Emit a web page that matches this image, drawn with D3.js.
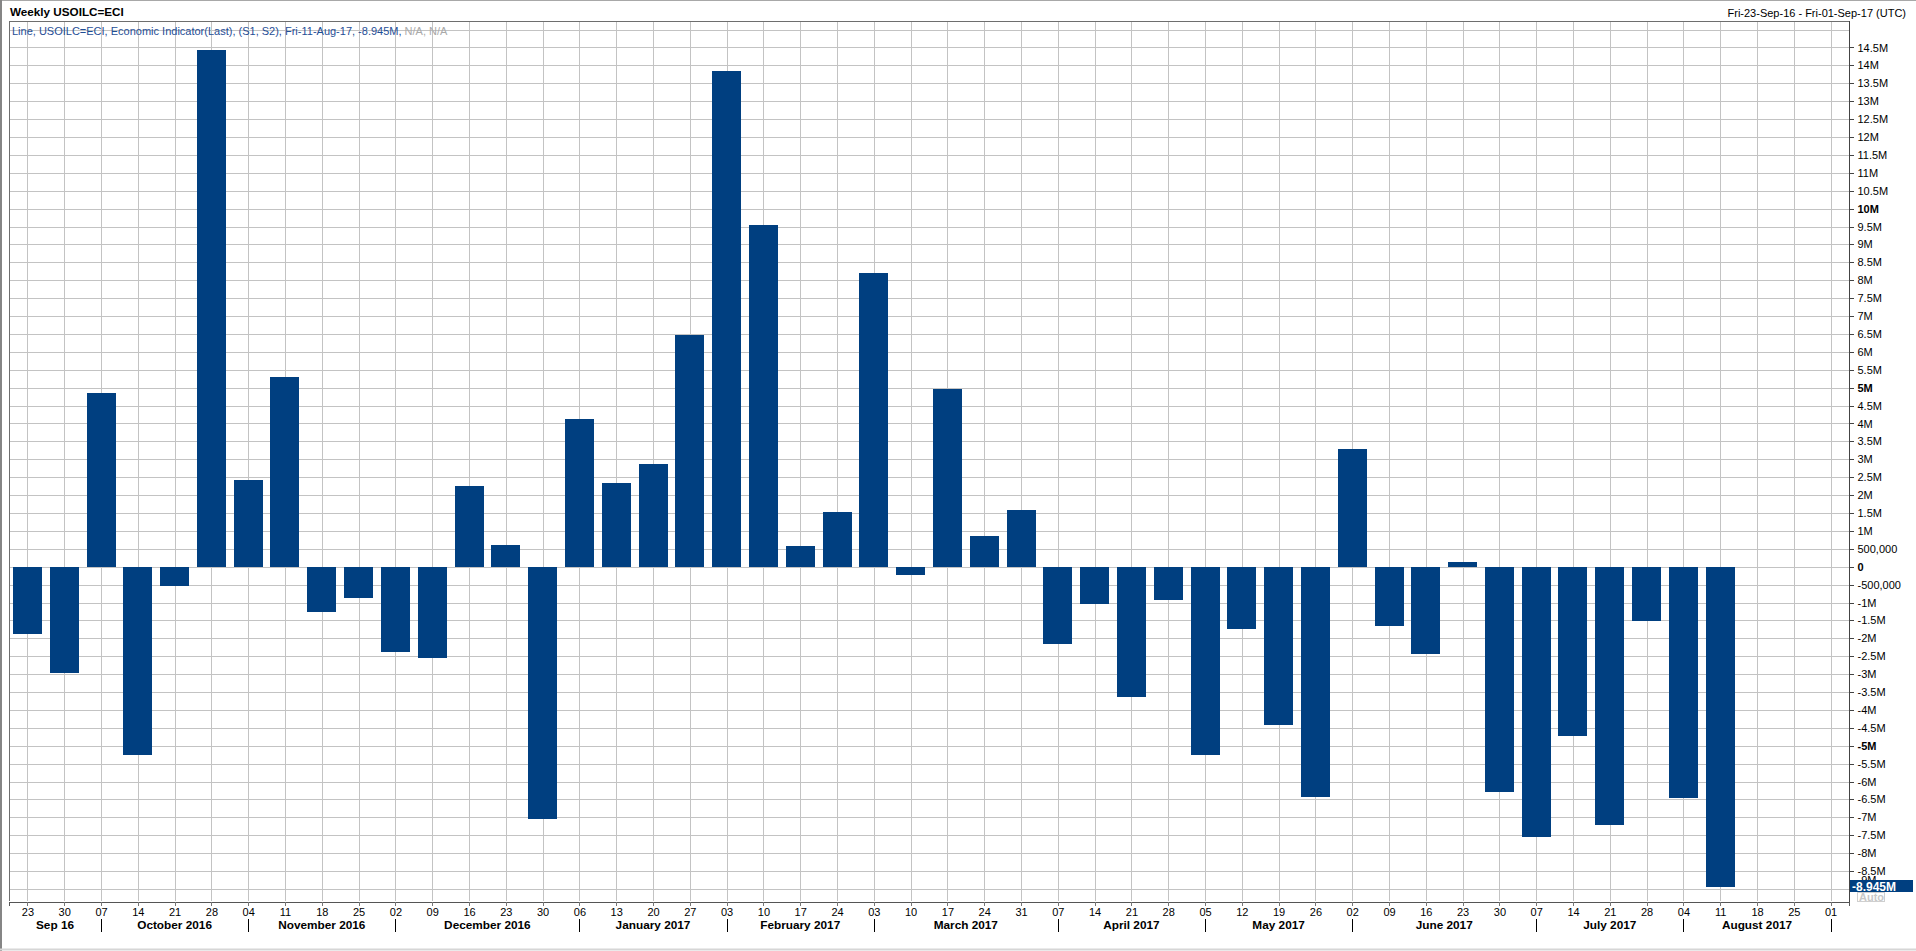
<!DOCTYPE html>
<html>
<head>
<meta charset="utf-8">
<script src="https://cdn.jsdelivr.net/npm/d3@7"></script>
<style>
  html, body { margin: 0; padding: 0; background: #fff; }
  svg { display: block; font-family: "Liberation Sans", Arial, sans-serif; }
</style>
</head>
<body>
<svg id="chart" width="1916" height="951"></svg>
<script>
// ---- DATA ----
const weeks = ["2016-09-23","2016-09-30","2016-10-07","2016-10-14","2016-10-21","2016-10-28","2016-11-04","2016-11-11","2016-11-18","2016-11-25","2016-12-02","2016-12-09","2016-12-16","2016-12-23","2016-12-30","2017-01-06","2017-01-13","2017-01-20","2017-01-27","2017-02-03","2017-02-10","2017-02-17","2017-02-24","2017-03-03","2017-03-10","2017-03-17","2017-03-24","2017-03-31","2017-04-07","2017-04-14","2017-04-21","2017-04-28","2017-05-05","2017-05-12","2017-05-19","2017-05-26","2017-06-02","2017-06-09","2017-06-16","2017-06-23","2017-06-30","2017-07-07","2017-07-14","2017-07-21","2017-07-28","2017-08-04","2017-08-11","2017-08-18","2017-08-25","2017-09-01"];
// weekly change, millions of barrels (no data for the last three weeks)
const values = [-1.88, -2.98, 4.86, -5.25, -0.55, 14.42, 2.43, 5.3, -1.26, -0.88, -2.39, -2.56, 2.26, 0.61, -7.05, 4.12, 2.35, 2.86, 6.47, 13.84, 9.53, 0.58, 1.52, 8.21, -0.24, 4.95, 0.87, 1.57, -2.17, -1.03, -3.64, -0.93, -5.25, -1.75, -4.43, -6.43, 3.3, -1.66, -2.45, 0.12, -6.3, -7.56, -4.73, -7.21, -1.53, -6.45, -8.945];
const monthLabels = ["Sep 16","October 2016","November 2016","December 2016","January 2017","February 2017","March 2017","April 2017","May 2017","June 2017","July 2017","August 2017"];
const yTicks = [15, 14.5, 14, 13.5, 13, 12.5, 12, 11.5, 11, 10.5, 10, 9.5, 9, 8.5, 8, 7.5, 7, 6.5, 6, 5.5, 5, 4.5, 4, 3.5, 3, 2.5, 2, 1.5, 1, 0.5, 0, -0.5, -1, -1.5, -2, -2.5, -3, -3.5, -4, -4.5, -5, -5.5, -6, -6.5, -7, -7.5, -8, -8.5, -9];
const yLabelTicks = yTicks.filter(v => v < 15);
const boldTicks = [10, 5, 0, -5];
const titleText = "Weekly USOILC=ECI";
const legendText = "Line, USOILC=ECI, Economic Indicator(Last), (S1, S2), Fri-11-Aug-17, -8.945M, ";
const legendNA = "N/A, N/A";
const rangeText = "Fri-23-Sep-16 - Fri-01-Sep-17 (UTC)";
const lastValueText = "-8.945M";

// ---- LAYOUT ----
const W = 1916, H = 951;
const plot = {left: 9, right: 1849, top: 21, bottom: 901};
const barColor = "#003f80";
const gridColor = "#c3c3c3";

const svg = d3.select("#chart");
const parse = d3.utcParse("%Y-%m-%d");
const dates = weeks.map(parse);
const halfWeek = 3.5 * 864e5;

const x = d3.scaleUtc()
  .domain([new Date(+dates[0] - halfWeek), new Date(+dates[dates.length - 1] + halfWeek)])
  .range([plot.left, plot.right]);
const y = d3.scaleLinear()
  .domain([-9.336, 15.24])
  .range([plot.bottom, plot.top]);

// outer frame
svg.append("rect").attr("x", 0).attr("y", 0).attr("width", W).attr("height", H).attr("fill", "#fff");
svg.append("line").attr("x1", 0).attr("x2", W).attr("y1", 0.5).attr("y2", 0.5).attr("stroke", "#a8a8a8");
svg.append("line").attr("x1", 1).attr("x2", 1).attr("y1", 0).attr("y2", H).attr("stroke", "#858585").attr("stroke-width", 2);
svg.append("line").attr("x1", 0).attr("x2", W).attr("y1", H - 1.5).attr("y2", H - 1.5).attr("stroke", "#d6d6d6").attr("stroke-width", 2);

// gridlines
const grid = svg.append("g").attr("shape-rendering", "crispEdges");
grid.selectAll("line.h").data(yTicks).join("line")
  .attr("class", "h")
  .attr("x1", plot.left).attr("x2", plot.right)
  .attr("y1", d => Math.round(y(d)) + 0.5).attr("y2", d => Math.round(y(d)) + 0.5)
  .attr("stroke", gridColor);
grid.selectAll("line.v").data(dates).join("line")
  .attr("class", "v")
  .attr("y1", plot.top).attr("y2", plot.bottom)
  .attr("x1", d => Math.round(x(d)) + 0.5).attr("x2", d => Math.round(x(d)) + 0.5)
  .attr("stroke", gridColor);

// legend line text (over grid)
const legend = svg.append("text").attr("x", 12).attr("y", 34.5)
  .attr("font-size", 11).attr("fill", "#1f4e96");
legend.append("tspan").text(legendText);
legend.append("tspan").attr("fill", "#a9a9a9").text(legendNA);

// bars
const barW = 29;
svg.append("g").attr("shape-rendering", "crispEdges")
  .selectAll("rect").data(values).join("rect")
  .attr("x", (d, i) => Math.round(x(dates[i]) - barW / 2))
  .attr("width", barW)
  .attr("y", d => Math.round(y(Math.max(0, d))))
  .attr("height", d => Math.abs(Math.round(y(d)) - Math.round(y(0))))
  .attr("fill", barColor);

// plot border
const border = svg.append("g").attr("shape-rendering", "crispEdges");
border.append("line").attr("x1", plot.left + 0.5).attr("x2", plot.left + 0.5).attr("y1", plot.top).attr("y2", plot.bottom).attr("stroke", "#6e6e6e");
border.append("line").attr("x1", plot.left).attr("x2", plot.right).attr("y1", plot.top + 0.5).attr("y2", plot.top + 0.5).attr("stroke", "#6e6e6e");

// x axis
const fmtDay = d3.utcFormat("%d");
const xAxis = svg.append("g").attr("transform", `translate(0,${plot.bottom + 0.5})`)
  .call(d3.axisBottom(x).tickValues(dates).tickSize(4).tickPadding(3).tickFormat(fmtDay));
xAxis.select(".domain").attr("stroke", "#555").attr("shape-rendering", "crispEdges");
xAxis.selectAll(".tick line").attr("stroke", "#777").attr("shape-rendering", "crispEdges");
xAxis.selectAll(".tick text").attr("font-size", 11).attr("font-family", "Liberation Sans, Arial, sans-serif").attr("fill", "#000");

// month separators: first week of each month
const monthStarts = dates.filter((d, i) => i > 0 && d.getUTCMonth() !== dates[i - 1].getUTCMonth());
const bounds = [plot.left, ...monthStarts.map(d => x(d))];
svg.append("g").attr("shape-rendering", "crispEdges")
  .selectAll("line").data(monthStarts).join("line")
  .attr("x1", d => Math.round(x(d)) + 0.5).attr("x2", d => Math.round(x(d)) + 0.5)
  .attr("y1", 919).attr("y2", 932)
  .attr("stroke", "#000");
svg.append("g").selectAll("text").data(monthLabels).join("text")
  .attr("x", (d, i) => (bounds[i] + bounds[i + 1]) / 2)
  .attr("y", 928.5)
  .attr("text-anchor", "middle")
  .attr("font-size", 11.8).attr("font-weight", "bold").attr("fill", "#000")
  .text(d => d);

// y axis (right)
function fmtY(v) {
  if (v === 0) return "0";
  const s = v < 0 ? "-" : "";
  const a = Math.abs(v);
  if (a < 1) return s + d3.format(",")(a * 1e6);
  return s + a + "M";
}
const yAxis = svg.append("g").attr("transform", `translate(${plot.right + 0.5},0)`)
  .call(d3.axisRight(y).tickValues(yLabelTicks).tickSize(4).tickPadding(4).tickFormat(fmtY));
yAxis.select(".domain").attr("stroke", "#444").attr("shape-rendering", "crispEdges")
  .attr("d", `M0,${plot.top}V${plot.bottom + 0.5}`);
yAxis.selectAll(".tick line").attr("stroke", "#444").attr("shape-rendering", "crispEdges");
yAxis.selectAll(".tick text").attr("font-size", 11).attr("font-family", "Liberation Sans, Arial, sans-serif").attr("fill", "#000")
  .attr("font-weight", d => boldTicks.includes(d) ? "bold" : "normal");
// lowest label is pushed up under the last-value marker, as in the reference
yAxis.selectAll(".tick").filter(d => d === -9).select("text").attr("dy", "-0.5em");

// last value marker
const lastY = y(values[values.length - 1]);
svg.append("rect").attr("x", 1850).attr("y", Math.round(lastY) - 7).attr("width", 63).attr("height", 12).attr("fill", barColor);
svg.append("text").attr("x", 1852).attr("y", Math.round(lastY) + 3.5)
  .attr("font-size", 12).attr("font-weight", "bold").attr("fill", "#fff").text(lastValueText);
svg.append("rect").attr("x", 1857.5).attr("y", Math.round(lastY) + 5.5).attr("width", 27).attr("height", 9)
  .attr("fill", "#fff").attr("stroke", "#cfcfcf");
svg.append("text").attr("x", 1859).attr("y", Math.round(lastY) + 14)
  .attr("font-size", 11).attr("font-weight", "bold").attr("fill", "#c8c8c8").text("Auto");

// header texts
svg.append("text").attr("x", 10).attr("y", 16)
  .attr("font-size", 11.7).attr("font-weight", "bold").attr("fill", "#000").text(titleText);
svg.append("text").attr("x", 1906).attr("y", 16.5).attr("text-anchor", "end")
  .attr("font-size", 11).attr("fill", "#000").text(rangeText);
</script>
</body>
</html>
